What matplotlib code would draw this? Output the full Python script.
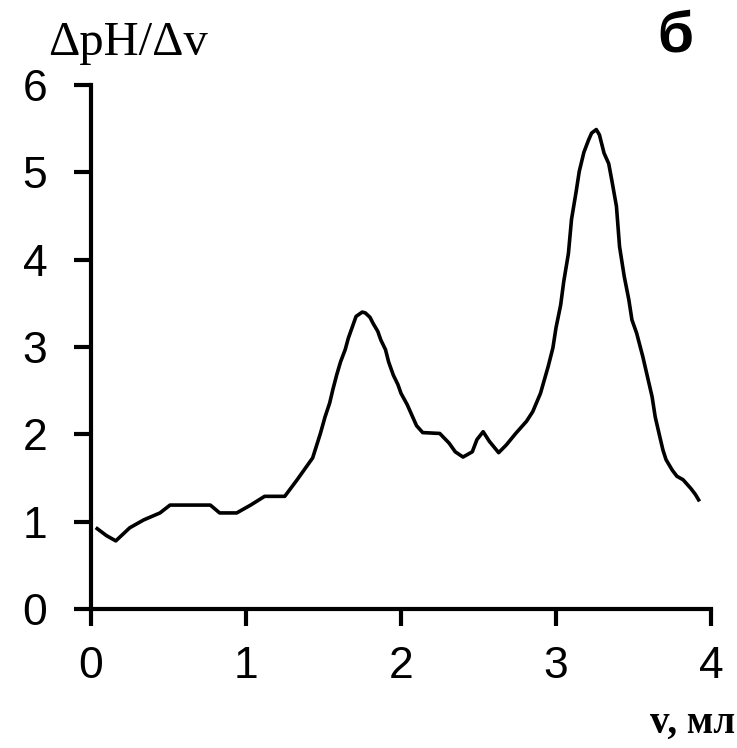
import matplotlib
matplotlib.use("Agg")
import matplotlib.pyplot as plt

v_ml = [0.04, 0.10, 0.16, 0.25, 0.34, 0.445, 0.51, 0.64, 0.77, 0.83, 0.94, 1.03, 1.12, 1.25,
        1.33, 1.43, 1.48, 1.51, 1.54, 1.56, 1.585, 1.61, 1.64, 1.66, 1.69, 1.71, 1.75, 1.77,
        1.80, 1.82, 1.85, 1.87, 1.90, 1.92, 1.95, 1.98, 2.00, 2.04, 2.07, 2.10, 2.14, 2.25,
        2.31, 2.35, 2.40, 2.46, 2.49, 2.53, 2.57, 2.63, 2.68, 2.74, 2.81, 2.85, 2.90, 2.95,
        2.98, 3.00, 3.03, 3.05, 3.08, 3.10, 3.13, 3.15, 3.18, 3.21, 3.23, 3.26, 3.28, 3.31,
        3.34, 3.36, 3.39, 3.41, 3.44, 3.47, 3.49, 3.52, 3.56, 3.59, 3.62, 3.64, 3.67, 3.69,
        3.71, 3.75, 3.78, 3.82, 3.87, 3.90, 3.92]
dph_dv = [0.92, 0.84, 0.78, 0.93, 1.02, 1.10, 1.19, 1.19, 1.19, 1.10, 1.10, 1.19, 1.29, 1.29,
          1.48, 1.73, 2.01, 2.20, 2.36, 2.51, 2.68, 2.83, 2.97, 3.10, 3.25, 3.35, 3.40, 3.39,
          3.34, 3.27, 3.18, 3.08, 2.97, 2.83, 2.68, 2.57, 2.47, 2.34, 2.22, 2.10, 2.02, 2.01,
          1.90, 1.80, 1.74, 1.80, 1.94, 2.03, 1.92, 1.79, 1.88, 2.01, 2.15, 2.26, 2.47, 2.78,
          2.99, 3.22, 3.48, 3.75, 4.07, 4.46, 4.78, 5.01, 5.23, 5.37, 5.45, 5.49, 5.43, 5.22,
          5.10, 4.91, 4.61, 4.15, 3.81, 3.54, 3.31, 3.16, 2.89, 2.66, 2.43, 2.20, 1.97, 1.82,
          1.71, 1.59, 1.52, 1.48, 1.38, 1.31, 1.25]
x_ticks = [0, 1, 2, 3, 4]
y_ticks = [0, 1, 2, 3, 4, 5, 6]

W, H = 737, 748
fig = plt.figure(figsize=(W / 100, H / 100), dpi=100)
ax = fig.add_axes([91 / W, (H - 609) / H, (711 - 91) / W, (609 - 85) / H])
ax.plot(v_ml, dph_dv, color="black", lw=2.6, solid_joinstyle="round")
ax.set_xlim(0, 4)
ax.set_ylim(0, 6)
for s in ["top", "right"]:
    ax.spines[s].set_visible(False)
for s in ["left", "bottom"]:
    ax.spines[s].set_linewidth(3.0)
ax.set_xticks(x_ticks)
ax.set_yticks(y_ticks)
ax.tick_params(axis="both", direction="out", length=12.5, width=3.0, colors="black",
               labelsize=32)
ax.tick_params(axis="y", pad=19)
ax.tick_params(axis="x", pad=14)
for lab in ax.get_xticklabels() + ax.get_yticklabels():
    lab.set_fontfamily("Liberation Sans")

fig.text(48 / W, 1 - 55 / H, "ΔpH/Δv", fontsize=35, family="Liberation Serif",
         ha="left", va="baseline")
fig.text(693 / W, 1 - 37 / H, "б", fontsize=42, family="Liberation Sans",
         fontweight="bold", ha="right", va="center")
fig.text(735 / W, 1 - 733 / H, "v, мл", fontsize=28, family="Liberation Serif",
         fontweight="bold", ha="right", va="baseline")

fig.savefig("out.png", dpi=100)
